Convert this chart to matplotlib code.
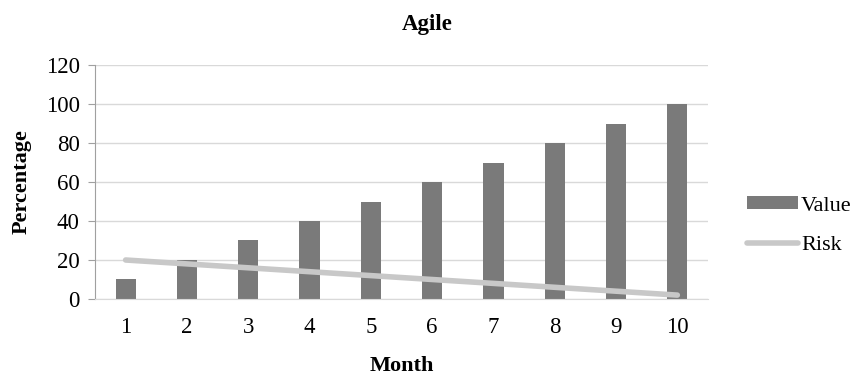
import matplotlib.pyplot as plt
import numpy as np

plt.rcParams['font.family'] = ['Liberation Serif', 'DejaVu Serif']

months = ["1", "2", "3", "4", "5", "6", "7", "8", "9", "10"]
value = [10, 20, 30, 40, 50, 60, 70, 80, 90, 100]
risk = [20, 18, 16, 14, 12, 10, 8, 6, 4, 2]

fig = plt.figure(figsize=(8.65, 3.76), dpi=100)
ax = fig.add_axes([0.1098, 0.2048, 0.7087, 0.6223])

x = np.arange(len(months))
bars = ax.bar(x, value, width=0.33, color="#7a7a7a", label="Value", zorder=2)
line, = ax.plot(x, risk, color="#c8c8c8", lw=4, solid_capstyle="round", label="Risk", zorder=3)

ax.set_xlim(-0.5, len(months) - 0.5)
ax.set_ylim(0, 120)
ax.set_yticks(range(0, 121, 20))
ax.set_xticks(x)
ax.set_xticklabels(months)
ax.tick_params(axis="x", length=0, labelsize=16.5, pad=13)
ax.tick_params(axis="y", length=5, color="#a0a0a0", labelsize=16.5, pad=6)
ax.grid(axis="y", color="#d9d9d9", lw=1, zorder=0)
for s in ["top", "right"]:
    ax.spines[s].set_visible(False)
ax.spines["left"].set_color("#a0a0a0")
ax.spines["bottom"].set_color("#d9d9d9")

fig.text(0.494, 0.935, "Agile", fontsize=16.5, fontweight="bold", ha="center", va="center")
ax.set_xlabel("Month", fontsize=16, fontweight="bold", labelpad=13)
ax.set_ylabel("Percentage", fontsize=16, fontweight="bold", labelpad=10)

fig.legend([bars, line], ["Value", "Risk"], loc="center left",
           bbox_to_anchor=(0.84, 0.40), frameon=False,
           fontsize=16, handlelength=2.3, handleheight=0.55,
           handletextpad=0.15, labelspacing=0.9)

fig.savefig("out.png", dpi=100)
